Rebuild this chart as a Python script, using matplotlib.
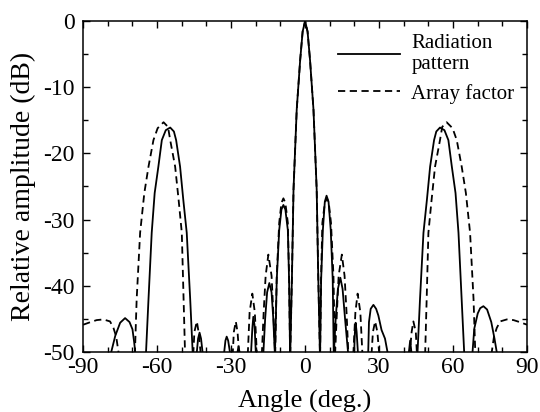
import matplotlib.pyplot as plt
from matplotlib.ticker import MultipleLocator

# values (angle in deg., level in dB)
# -60 marks a null that lies below the plotted range
rad_angle = [-90, -78.6, -77.0, -75.0, -73.0, -71.2, -70.0, -69.3, -68.9, -66.7,
             -64.5, -63.5, -62.2, -61.0, -59.5, -58.1, -56.5, -54.7, -53.2, -52.3,
             -50.7, -49.4, -48.0, -46.6, -45.6, -44.8,
             -43.9, -43.4, -42.8, -42.2, -41.6, -37.0,
             -32.8, -32.3, -31.8, -31.2, -30.5, -29.0,
             -27.4, -27.0, -26.6, -24.0,
             -21.9, -21.4, -21.0, -20.5, -20.0, -18.5,
             -16.9, -16.2, -15.4, -14.5, -13.6, -12.9, -12.3, -12.25,
             -12.2, -11.5, -10.5, -9.6, -8.8, -8.0, -7.0, -6.5, -6.1, -6.05,
             -6.0, -5.3, -4.7, -3.4, -2.0, -1.0, 0.0, 1.0, 2.0, 3.4, 4.7, 5.3, 6.0, 6.05,
             6.1, 6.5, 7.2, 8.0, 8.7, 9.5, 10.4, 11.2, 11.6, 11.65,
             11.7, 12.4, 13.3, 14.3, 15.2, 16.2, 17.4, 18.5,
             19.9, 20.2, 20.5, 20.9, 21.4, 23.5,
             25.6, 25.9, 26.6, 27.7, 28.8, 29.7, 31.0, 32.4, 33.4, 38.0,
             42.1, 42.6, 43.1, 44.8,
             45.6, 46.6, 48.0, 49.4, 50.7, 52.3, 53.2, 54.7, 56.5, 58.1, 59.5, 61.0,
             62.2, 63.5, 64.5, 66.5,
             67.9, 68.6, 70.0, 71.0, 72.3, 73.8, 75.5, 76.8, 77.7, 80.0, 90]
rad_db = [-60, -50, -47.6, -45.6, -44.9, -45.5, -46.6, -48.6, -50, -60,
          -50, -42, -32, -26, -22, -18, -16.5, -16.1, -16.7, -18,
          -22, -27, -32, -42, -50, -60,
          -50, -48, -47.1, -48, -50, -60,
          -50, -48.3, -47.7, -48.3, -50, -60,
          -50, -49.2, -50, -60,
          -50, -46.5, -44.7, -46, -50, -60,
          -50, -45, -41, -39.6, -41, -45, -50, -60,
          -50, -39.1, -31.6, -28.5, -27.8, -28.5, -31.6, -39.1, -50, -60,
          -50, -38, -25.5, -13.4, -5.9, -1.6, 0, -1.6, -5.9, -13.4, -25.5, -38, -50, -60,
          -50, -39.1, -31.6, -27.3, -26.4, -27.3, -31.6, -39.1, -50, -60,
          -50, -45, -40.5, -38.8, -40.5, -45, -50, -60,
          -50, -47, -45.6, -47, -50, -60,
          -50, -45.5, -43.5, -42.9, -43.5, -44.5, -46.7, -48.0, -50, -60,
          -50, -48.3, -50, -60,
          -50, -42, -32, -27, -22, -18, -16.7, -16.1, -16.5, -18, -22, -26,
          -32, -42, -50, -60,
          -50, -46.5, -44.2, -43.4, -43.1, -43.6, -45.5, -48.0, -50, -60, -60]

af_angle = [-90, -87.0, -84.5, -81.8, -79.1, -77.7, -76.6, -75.7, -72.5,
            -69.0, -68.3, -66.9, -65.2, -63.5, -61.5, -59.8, -57.4, -55.6, -54.7,
            -52.7, -51.3, -50.0, -49.3, -48.7, -47.0,
            -45.3, -44.9, -43.9, -43.2, -42.4, -35.0,
            -29.3, -28.9, -28.1, -27.4, -26.8, -25.0,
            -23.2, -22.5, -21.4, -20.4, -19.6, -18.8,
            -17.5, -16.8, -16.0, -14.9, -13.6, -12.9, -12.2, -12.15,
            -12.1, -11.5, -10.5, -9.6, -8.8, -8.0, -7.0, -6.5, -6.1, -6.05,
            -6.0, -5.3, -4.7, -3.4, -2.0, -1.0, 0.0, 1.0, 2.0, 3.4, 4.7, 5.3, 6.0, 6.05,
            6.1, 6.5, 7.0, 8.0, 8.8, 9.6, 10.5, 11.5, 12.1, 12.15,
            12.2, 12.9, 13.6, 14.9, 16.0, 16.8, 17.5, 18.8,
            19.6, 20.4, 21.3, 22.4, 23.2, 25.0,
            27.0, 27.5, 28.4, 29.3, 30.0, 35.0,
            42.5, 43.2, 43.9, 44.9, 45.3, 47.0,
            48.7, 49.3, 50.0, 51.3, 52.7, 54.7, 55.6, 57.4, 59.8, 61.5, 63.5, 65.2,
            66.9, 68.3, 69.0, 72.5,
            75.7, 76.6, 77.7, 79.1, 81.8, 84.5, 87.0, 90]
af_db = [-45.9, -45.5, -45.2, -45.1, -45.4, -46.4, -47.7, -50, -60,
         -50, -42, -32, -26, -22, -18, -16.2, -15.3, -16.0, -18,
         -22, -27, -32, -42, -50, -60,
         -50, -47, -45.4, -47, -50, -60,
         -50, -47, -45.4, -47, -50, -60,
         -50, -44, -41.2, -44, -50, -60,
         -50, -44, -38.5, -35.3, -38.5, -44, -50, -60,
         -50, -38.5, -30.5, -27.5, -26.8, -27.5, -30.5, -38.5, -50, -60,
         -50, -38, -25.5, -13.4, -5.9, -1.6, 0, -1.6, -5.9, -13.4, -25.5, -38, -50, -60,
         -50, -38.5, -30.5, -27.5, -26.8, -27.5, -30.5, -38.5, -50, -60,
         -50, -44, -38.5, -35.3, -38.5, -44, -50, -60,
         -50, -44, -41.2, -44, -50, -60,
         -50, -47, -45.4, -47, -50, -60,
         -50, -47, -45.4, -47, -50, -60,
         -50, -42, -32, -27, -22, -18, -16.0, -15.3, -16.2, -18, -22, -26,
         -32, -42, -50, -60,
         -50, -47.7, -46.4, -45.4, -45.1, -45.2, -45.5, -45.9]

plt.rcParams['font.family'] = ['Liberation Serif', 'DejaVu Serif']
plt.rcParams['axes.unicode_minus'] = False

fig, ax = plt.subplots(figsize=(5.4, 4.12), dpi=100)
fig.subplots_adjust(left=0.154, right=0.976, top=0.949, bottom=0.146)

ax.plot(rad_angle, rad_db, color='k', lw=1.3, label='Radiation\npattern')
ax.plot(af_angle, af_db, color='k', lw=1.3, ls=(0, (4, 2.5)), label='Array factor')

ax.set_xlim(-90, 90)
ax.set_ylim(-50, 0)
ax.set_xticks(range(-90, 91, 30))
ax.set_yticks(range(-50, 1, 10))
ax.xaxis.set_minor_locator(MultipleLocator(10))
ax.yaxis.set_minor_locator(MultipleLocator(5))
ax.tick_params(which='both', direction='in', top=True, right=True, width=1.0)
ax.tick_params(which='major', length=5, labelsize=17)
ax.tick_params(which='minor', length=3.5)
ax.tick_params(axis='x', pad=4)
ax.tick_params(axis='y', pad=6)
for s in ax.spines.values():
    s.set_linewidth(1.1)

ax.set_xlabel('Angle (deg.)', fontsize=19, labelpad=8)
ax.set_ylabel('Relative amplitude (dB)', fontsize=20, labelpad=5)

ax.legend(loc='upper right', bbox_to_anchor=(0.972, 0.962), frameon=False,
          fontsize=15, handlelength=3.0, handletextpad=0.55, labelspacing=0.45,
          borderpad=0, borderaxespad=0)

fig.savefig('out.png', dpi=100)
